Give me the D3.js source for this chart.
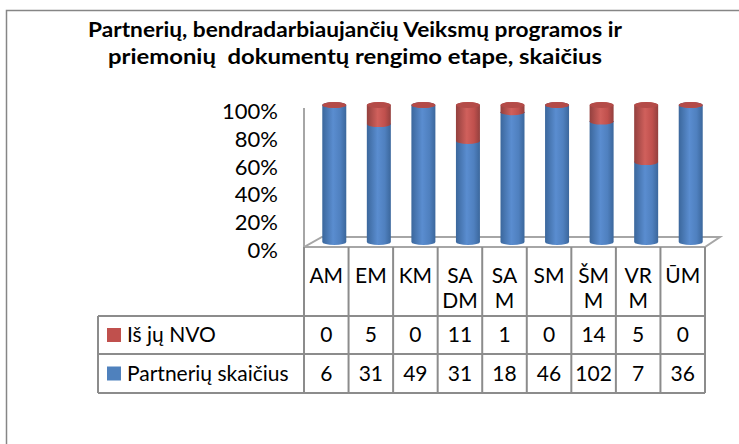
<!DOCTYPE html>
<html>
<head>
<meta charset="utf-8">
<script src="https://cdn.jsdelivr.net/npm/d3@7"></script>
<style>
  body { margin: 0; background: #fff; }
  text { font-family: Lato, "Open Sans", sans-serif; fill: #000; }
</style>
</head>
<body>
<div class="chart"></div>
<script>
// data
var categories = ["AM", "EM", "KM", "SADM", "SAM", "SM", "ŠMM", "VRM", "ŪM"];
var headerLines = [["AM"], ["EM"], ["KM"], ["SA", "DM"], ["SA", "M"], ["SM"], ["ŠM", "M"], ["VR", "M"], ["ŪM"]];
var nvo = [0, 5, 0, 11, 1, 0, 14, 5, 0];
var partners = [6, 31, 49, 31, 18, 46, 102, 7, 36];
var seriesNames = ["Iš jų NVO", "Partnerių skaičius"];
var yTicks = [0, 0.2, 0.4, 0.6, 0.8, 1];
var titleLines = ["Partnerių, bendradarbiaujančių Veiksmų programos ir", "priemonių  dokumentų rengimo etape, skaičius"];
var titleWidths = [534, 494];

var w = 739, h = 444;
var svg = d3.select(".chart").append("svg").attr("width", w).attr("height", h);

// gradients for the cylinders
var defs = svg.append("defs");
function grad(id, dark, light, mid) {
    var g = defs.append("linearGradient").attr("id", id).attr("x1", 0).attr("x2", 1).attr("y1", 0).attr("y2", 0);
    g.append("stop").attr("offset", "0%").attr("stop-color", dark);
    g.append("stop").attr("offset", "45%").attr("stop-color", light);
    g.append("stop").attr("offset", "75%").attr("stop-color", mid);
    g.append("stop").attr("offset", "100%").attr("stop-color", dark);
}
grad("gBlue", "#3b679c", "#5a8dd0", "#4f80bf");
grad("gRed", "#93403e", "#d0605c", "#c0504d");

// chart area border
svg.append("rect").attr("x", 6.5).attr("y", 10.5).attr("width", 800).attr("height", 500)
   .attr("fill", "none").attr("stroke", "#868686").attr("stroke-width", 1.5);

// title
svg.selectAll(".title").data(titleLines).enter().append("text")
   .attr("class", "title")
   .attr("x", 355).attr("y", function(d, i) { return 37 + i * 27; })
   .attr("text-anchor", "middle")
   .attr("textLength", function(d, i) { return titleWidths[i]; })
   .attr("lengthAdjust", "spacingAndGlyphs")
   .style("font-weight", "bold").style("font-size", "20px")
   .style("white-space", "pre")
   .text(function(d) { return d; });

var xScale = d3.scaleBand().domain(categories).range([304, 705]).padding(0);
var yLabel = d3.scaleLinear().domain([0, 1]).range([250, 111]);
var yBar = d3.scaleLinear().domain([0, 1]).range([242, 105]);
var depth = 8, rx = 12, ry = 3;

// y labels
svg.selectAll(".ylab").data(yTicks).enter().append("text")
   .attr("x", 278).attr("y", function(d) { return yLabel(d) + 8; })
   .attr("text-anchor", "end").style("font-size", "22px")
   .text(d3.format(".0%"));

// walls / floor
var grid = "#a6a6a6";
var floorBack = 237, floorFront = 247;
svg.append("path")
   .attr("d", `M304,108 L304,${floorFront} L322,${floorBack} L720,${floorBack} L705,${floorFront} L304,${floorFront}`)
   .attr("fill", "none").attr("stroke", grid).attr("stroke-width", 2);

// cylinders
function seg(cx, y0, y1) {
    return `M${cx - rx},${y1} L${cx - rx},${y0} A${rx},${ry} 0 0 0 ${cx + rx},${y0} L${cx + rx},${y1} A${rx},${ry} 0 0 0 ${cx - rx},${y1} Z`;
}
var data = categories.map(function(c, i) {
    var t = nvo[i] + partners[i];
    return { c: c, blue: partners[i] / t, red: nvo[i] / t };
});
var bars = svg.selectAll(".bar").data(data).enter().append("g").attr("class", "bar");
bars.append("path")
    .attr("d", function(d) { var cx = xScale(d.c) + xScale.bandwidth() / 2 + depth; return seg(cx, yBar(0), yBar(d.blue)); })
    .attr("fill", "url(#gBlue)");
bars.append("path")
    .attr("d", function(d) { var cx = xScale(d.c) + xScale.bandwidth() / 2 + depth; return seg(cx, yBar(d.blue), yBar(d.blue + d.red)); })
    .attr("fill", "url(#gRed)");
bars.append("ellipse")
    .attr("cx", function(d) { return xScale(d.c) + xScale.bandwidth() / 2 + depth; })
    .attr("cy", function(d) { return yBar(d.blue + d.red); })
    .attr("rx", rx).attr("ry", ry)
    .attr("fill", "#b44b48");

// data table
var tableLeft = 98, rowTop = [316, 354, 393];
var line = "#8c8c8c";
categories.forEach(function(c) {
    svg.append("line").attr("x1", xScale(c)).attr("x2", xScale(c))
       .attr("y1", floorFront).attr("y2", rowTop[2]).attr("stroke", line).attr("stroke-width", 2);
});
svg.append("line").attr("x1", 705).attr("x2", 705).attr("y1", floorFront).attr("y2", rowTop[2])
   .attr("stroke", line).attr("stroke-width", 2);
svg.append("line").attr("x1", tableLeft).attr("x2", tableLeft).attr("y1", rowTop[0]).attr("y2", rowTop[2])
   .attr("stroke", line).attr("stroke-width", 2);
rowTop.forEach(function(y) {
    svg.append("line").attr("x1", tableLeft).attr("x2", 705).attr("y1", y).attr("y2", y)
       .attr("stroke", line).attr("stroke-width", 2);
});

// header labels
categories.forEach(function(c, i) {
    headerLines[i].forEach(function(t, j) {
        svg.append("text").attr("x", xScale(c) + xScale.bandwidth() / 2).attr("y", 283 + j * 25)
           .attr("text-anchor", "middle").style("font-size", "21px").text(t);
    });
});

// rows
var rows = [{ name: seriesNames[0], vals: nvo, color: "#c0504d" }, { name: seriesNames[1], vals: partners, color: "#4f81bd" }];
rows.forEach(function(r, k) {
    var yMid = (rowTop[k] + rowTop[k + 1]) / 2;
    svg.append("rect").attr("x", 107).attr("y", yMid - 7).attr("width", 14).attr("height", 14).attr("fill", r.color);
    svg.append("text").attr("x", 127).attr("y", yMid + 7).style("font-size", "21px").text(r.name);
    r.vals.forEach(function(v, i) {
        svg.append("text").attr("x", xScale(categories[i]) + xScale.bandwidth() / 2).attr("y", yMid + 7)
           .attr("text-anchor", "middle").style("font-size", "21px").text(v);
    });
});
</script>
</body>
</html>
